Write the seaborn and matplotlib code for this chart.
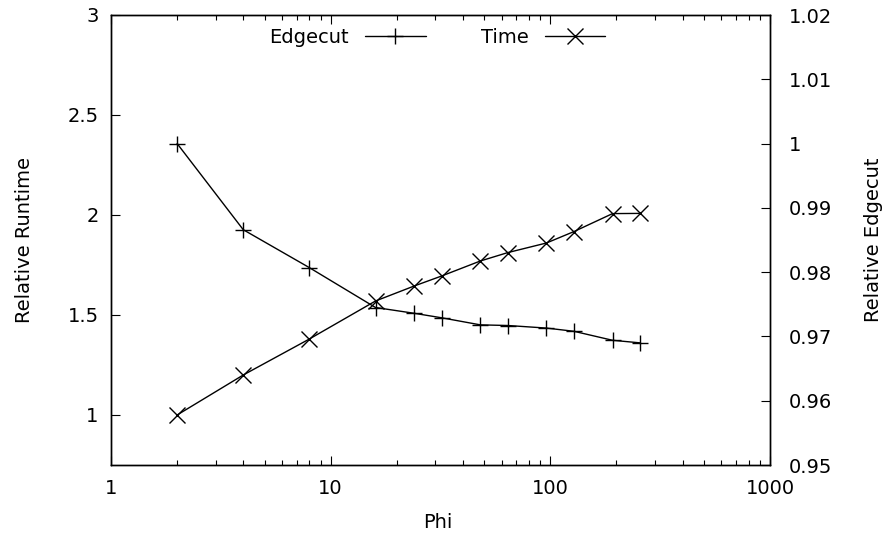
import matplotlib
matplotlib.use("Agg")
import matplotlib.pyplot as plt
import matplotlib.ticker as mticker
import seaborn as sns
import pandas as pd

phi = [2, 4, 8, 16, 24, 32, 48, 64, 96, 128, 192, 256]
edgecut = [1.0, 0.9866, 0.9807, 0.9745, 0.9736, 0.9729, 0.9718, 0.9717, 0.9713, 0.9708, 0.9694, 0.9690]
runtime = [1.0, 1.20, 1.38, 1.57, 1.645, 1.695, 1.77, 1.812, 1.86, 1.917, 2.007, 2.008]
x_ticks = [1, 10, 100, 1000]
y1_ticks = [1, 1.5, 2, 2.5, 3]
y2_ticks = [0.95, 0.96, 0.97, 0.98, 0.99, 1.0, 1.01, 1.02]

df = pd.DataFrame({"Phi": phi, "Edgecut": edgecut, "Time": runtime})

sns.set_style("ticks")
plt.rcParams["font.family"] = ["DejaVu Sans"]
FS = 14
plt.rcParams.update({
    "font.size": FS,
    "text.color": "black",
    "axes.labelcolor": "black",
    "axes.edgecolor": "black",
    "xtick.color": "black",
    "ytick.color": "black",
})

fig = plt.figure(figsize=(8.84, 5.38), dpi=100)
ax = fig.add_axes([111 / 884, 73 / 538, 659 / 884, 450 / 538])
ax2 = ax.twinx()

sns.lineplot(data=df, x="Phi", y="Time", ax=ax, color="black", lw=1,
             marker="x", markersize=11.5, markeredgewidth=1, markeredgecolor="black",
             label="Time", legend=False)
sns.lineplot(data=df, x="Phi", y="Edgecut", ax=ax2, color="black", lw=1,
             marker="+", markersize=11.5, markeredgewidth=1, markeredgecolor="black",
             label="Edgecut", legend=False)

ax.set_xscale("log")
ax.set_xlim(1, 1000)
ax.set_ylim(0.75, 3)
ax2.set_ylim(0.95, 1.02)
ax.set_xticks(x_ticks)
ax.xaxis.set_major_formatter(mticker.FuncFormatter(lambda v, p: f"{v:g}"))
ax.set_yticks(y1_ticks)
ax.yaxis.set_major_formatter(mticker.FuncFormatter(lambda v, p: f"{v:g}"))
ax2.set_yticks(y2_ticks)
ax2.yaxis.set_major_formatter(mticker.FuncFormatter(lambda v, p: f"{v:g}"))

ax.tick_params(axis="x", which="major", direction="in", length=6.5, width=0.8,
               top=True, bottom=True, pad=10, labelsize=FS)
ax.tick_params(axis="x", which="minor", direction="in", length=3.5, width=0.8,
               top=True, bottom=True)
ax.tick_params(axis="y", which="major", direction="in", length=6.5, width=0.8,
               left=True, right=False, pad=9, labelsize=FS)
ax.tick_params(axis="y", which="minor", left=False, right=False)
ax2.tick_params(axis="y", which="major", direction="in", length=6.5, width=0.8,
                right=True, left=False, pad=13.5, labelsize=FS)
ax2.tick_params(axis="y", which="minor", left=False, right=False)

for a in (ax, ax2):
    for s in a.spines.values():
        s.set_visible(True)
        s.set_linewidth(1.0)
        s.set_color("black")

ax.set_xlabel("Phi", fontsize=FS)
ax.set_ylabel("Relative Runtime", fontsize=FS)
ax2.set_ylabel("Relative Edgecut", fontsize=FS)
ax.xaxis.set_label_coords(0.4954, -0.1067)
ax.yaxis.set_label_coords(-0.117, 0.5)
ax2.yaxis.set_label_coords(1.1426, 0.5)

h1, l1 = ax2.get_legend_handles_labels()
h2, l2 = ax.get_legend_handles_labels()
ax.legend(h1 + h2, l1 + l2, loc="center", bbox_to_anchor=(0.4954, 0.9496),
          ncol=2, frameon=False, markerfirst=False, handlelength=3.13,
          columnspacing=2.83, handletextpad=0.82, fontsize=FS, borderaxespad=0.0,
          borderpad=0.0)

fig.savefig("out.png", dpi=100)
